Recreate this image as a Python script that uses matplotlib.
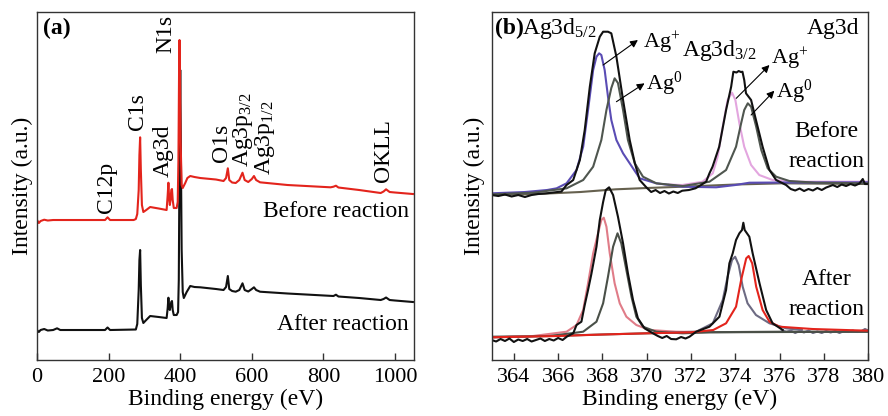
import matplotlib
matplotlib.use("Agg")
import matplotlib.pyplot as plt

plt.rcParams['font.family'] = ['Liberation Serif', 'DejaVu Serif']
plt.rcParams['mathtext.fontset'] = 'custom'
plt.rcParams['mathtext.rm'] = 'Liberation Serif'
plt.rcParams['mathtext.it'] = 'Liberation Serif:italic'
plt.rcParams['mathtext.bf'] = 'Liberation Serif:bold'

# ---------------- Panel (a): survey spectra ----------------
survey_E = [0, 5, 10, 20, 30, 45, 56, 65, 150, 190, 197, 204, 270, 276, 280, 284, 286, 288,
            290, 293, 297, 305, 316, 340, 362, 365, 367, 369, 371, 373, 375, 377, 379, 382,
            390, 393, 395, 397, 398, 399, 401, 404, 407, 414, 420, 428, 440, 456, 500, 521,
            528, 533, 537, 545, 555, 565, 574, 580, 590, 600, 606, 612, 623, 700, 820, 828,
            835, 842, 900, 960, 968, 975, 985, 1000, 1050]
before_I = [140, 137, 139, 140.3, 139.5, 140, 140, 140, 140, 140, 142.7, 140, 140, 141, 146, 170, 205, 222.7,
            190, 155, 148, 150, 153, 151.5, 150, 165, 177.3, 162, 155, 160, 170, 171, 160, 152,
            152, 158, 200, 300, 320, 300, 220, 175, 172, 177, 182, 184, 183, 182, 180.5, 179,
            182, 191.7, 180, 177.5, 177, 180, 187.3, 180, 178, 181, 184, 180, 177.7, 175, 172.7, 173.3,
            174.3, 172.5, 170, 167, 168.5, 170.7, 168, 167.5, 166]

after_E = [0, 5, 10, 20, 30, 45, 56, 65, 190, 197, 204, 276, 280, 284, 286, 288, 290, 293,
           297, 305, 316, 340, 362, 365, 367, 369, 371, 373, 375, 377, 379, 382, 390, 394,
           396, 398, 400, 402, 404, 407, 410, 418, 428, 440, 456, 500, 521, 528, 533, 537,
           545, 555, 565, 574, 580, 590, 600, 606, 612, 623, 700, 828, 835, 842, 900, 960,
           968, 975, 985, 1000, 1050]
after_I = [30, 28, 30, 31, 29.5, 30, 31.7, 30, 30, 32.5, 30, 30.5, 36, 70, 100, 110, 75, 42,
           37, 40, 44, 43, 42, 52, 62.3, 52, 50, 54, 58, 59, 50, 45, 45, 48,
           80, 200, 290, 200, 110, 68, 62, 68, 74, 73, 72.7, 71, 70, 73, 84, 71,
           69, 68.3, 70, 76.7, 70, 68.5, 71, 72.7, 70, 68.3, 66.5, 64, 65.3, 63.5, 62, 60,
           61, 62.5, 60, 59.5, 58]

survey_xticks = [0, 200, 400, 600, 800, 1000]

# rotated peak labels: (text, E, intensity of label bottom)
survey_labels = ['C12p', 'C1s', 'Ag3d', 'N1s', 'O1s',
                 r'Ag3p$_{\mathrm{3/2}}$', r'Ag3p$_{\mathrm{1/2}}$', 'OKLL']
survey_label_E = [193.5, 281, 354, 361, 516, 574, 636, 969]
survey_label_I = [147, 230, 183, 307, 198, 193, 185, 178]

# ---------------- Panel (b): Ag3d high-resolution ----------------
# Before reaction
b_raw_E = [363.0, 363.3, 363.6, 363.9, 364.2, 364.5, 364.8, 365.1, 365.4, 365.6, 366.15, 366.38,
           366.68, 366.98, 367.2, 367.43, 367.65, 367.88, 368.03, 368.25, 368.4, 368.63, 368.93,
           369.23, 369.46, 369.68, 369.98, 370.2, 370.4, 370.6, 370.8, 371.0, 371.2, 371.4, 371.6,
           371.9, 372.2, 372.45, 372.68, 372.83, 372.97, 373.27, 373.58, 373.81, 373.91, 374.05,
           374.15, 374.25, 374.32, 374.4, 374.48, 374.71, 374.93, 375.23, 375.54, 375.84, 376.29,
           376.5, 376.7, 376.9, 377.1, 377.3, 377.5, 377.7, 377.9, 378.1, 378.4, 378.6, 378.8,
           379.0, 379.2, 379.4, 379.6, 379.75, 379.85, 380.0]
b_raw_I = [165, 164, 165.5, 163.5, 165, 163, 165, 166, 166.5, 167, 168.5, 175,
           180, 200, 230, 273.3, 306.7, 323.3, 328.3, 328.3, 326.7, 303.3, 260,
           220, 197, 180, 172.7, 168, 170, 167, 169, 166.5, 168.5, 167, 169.3,
           170, 171.7, 175, 178.3, 186.7, 193.3, 213.3, 250, 273.3, 288.3, 287.5,
           289, 288, 288.3, 280, 266.7, 260, 240, 213.3, 190, 180, 175,
           171, 169.5, 171.5, 169, 171, 169.5, 172, 170, 172.5, 175, 173, 175.5,
           174, 176, 174.5, 176.5, 181, 176, 176]

b_agp52_E = [363.0, 364.5, 365.5, 365.93, 366.38, 366.83, 367.13, 367.35, 367.58, 367.73, 367.85,
             367.95, 368.1, 368.25, 368.4, 368.63, 368.93, 369.23, 369.68, 370.43, 371.63, 373.13,
             374.0, 374.63, 376.0, 380.0]
b_agp52_I = [166.7, 168, 170, 171.7, 176.7, 190, 213.3, 250, 290, 303.3, 306.7,
             305, 290, 263.3, 240, 220, 206.7, 196.7, 181.7, 176.7, 173.3, 172.7,
             175, 177.3, 177.5, 177.7]

b_ag0_E = [363.0, 364.87, 366.38, 367.13, 367.58, 367.95, 368.18, 368.4, 368.55, 368.7, 368.93,
           369.15, 369.46, 369.83, 370.43, 371.63, 372.83, 373.58, 374.03, 374.26, 374.4, 374.56,
           374.71, 374.94, 375.17, 375.46, 375.84, 376.44, 377.64, 380.0]
b_ag0_I = [165.7, 167.3, 171.7, 180, 193.3, 220, 250, 272, 281.7, 277, 250,
           220, 196.7, 183.3, 176.7, 174, 178.3, 190, 213.3, 236.7, 250, 256.7,
           253.3, 233.3, 210, 191.7, 183.3, 179, 177.3, 176.7]

b_agp32_E = [371.0, 371.6, 372.52, 372.98, 373.2, 373.43, 373.65, 373.85, 374.0, 374.18, 374.4,
             374.71, 375.08, 375.68, 376.89, 380.0]
b_agp32_I = [175.5, 175, 178.3, 186.7, 203.3, 233.3, 260, 267.3, 260, 236.7, 213.3,
             195, 185, 180, 178.3, 178.3]

b_bg_E = [363.0, 365.0, 367.0, 368.6, 370.0, 371.6, 374.0, 376.1, 380.0]
b_bg_I = [165, 166, 168, 170.7, 172, 173.3, 175.5, 176.7, 176]

# After reaction
a_raw_E = [363.0, 363.2, 363.4, 363.6, 363.8, 364.0, 364.2, 364.4, 364.6, 364.8, 365.0, 365.2,
           365.4, 365.6, 365.8, 366.0, 366.2, 366.4, 366.68, 366.83, 367.05, 367.2, 367.35, 367.5,
           367.73, 367.88, 368.03, 368.15, 368.3, 368.48, 368.7, 368.93, 369.15, 369.38, 369.6,
           369.9, 370.28, 370.5, 370.7, 370.9, 371.1, 371.33, 371.55, 371.75, 371.93, 372.23,
           372.83, 373.28, 373.58, 373.73, 373.88, 374.03, 374.18, 374.3, 374.36, 374.42, 374.63,
           374.78, 375.09, 375.39, 375.68, 376.14]
a_raw_I = [20, 18.5, 21, 19, 21.5, 18, 20.5, 19, 21, 18.5, 20, 21.5,
           19, 21, 19.5, 22, 20, 23.5, 26.7, 35, 38.3, 55, 70, 86,
           113.3, 140, 158, 170, 172.7, 165, 143.3, 116.7, 86.7, 60, 41.7,
           31.7, 26.7, 24, 22, 24, 21, 20.7, 23, 21.5, 23.3, 28.3,
           33.3, 43.3, 70, 96.7, 106.7, 120, 126.7, 130, 137.3, 130, 123.3,
           106.7, 76.7, 50, 36.7, 30]

a_tail_E = [376.1, 376.3, 376.5, 376.7, 376.9, 377.1, 377.3, 377.5, 377.7, 377.9, 378.1, 378.3,
            378.5, 378.7, 378.9, 379.1, 379.3, 379.5, 379.7, 379.85, 380.0]
a_tail_I = [30, 28, 29.5, 27, 29, 27.5, 29.5, 27, 28.5, 27, 29, 27.5,
            29, 27, 29, 28, 29.5, 28, 29, 31, 29.5]

a_agp52_E = [363.0, 364.87, 366.38, 366.83, 367.13, 367.35, 367.58, 367.8, 367.95, 368.06, 368.18,
             368.33, 368.55, 368.78, 369.08, 369.53, 370.13, 371.33, 372.5]
a_agp52_I = [22.7, 24, 28.3, 35, 50, 76.7, 106.7, 126.7, 140, 142.3, 133.3,
             106.7, 76.7, 56.7, 43.3, 35, 30, 28.3, 28]

a_ag0_E = [363.0, 365.63, 367.13, 367.73, 368.03, 368.25, 368.48, 368.68, 368.85, 369.08, 369.31,
           369.53, 369.83, 370.43, 371.63, 372.83, 380.0]
a_ag0_I = [22.7, 24, 28.3, 38.3, 56.7, 83.3, 113.3, 126.7, 116.7, 90, 63.3,
           43.3, 33.3, 28.3, 26.7, 27.7, 28.3]

a_agp32_E = [371.0, 372.23, 372.98, 373.43, 373.65, 373.85, 373.99, 374.15, 374.33, 374.55, 374.93,
             375.54, 376.29, 377.0]
a_agp32_I = [27.5, 28.3, 36.7, 60, 83.3, 100, 103.3, 95, 73.3, 56.7, 45,
             36.7, 31.7, 30]

a_ag032_E = [363.0, 366.0, 368.0, 370.0, 372.0, 373.0, 373.58, 374.03, 374.26, 374.49, 374.6,
             374.76, 374.94, 375.23, 375.54, 375.99, 377.49, 380.0]
a_ag032_I = [22.7, 24, 25.5, 26.7, 27.7, 30, 36.7, 53.3, 80, 101.7, 104,
             96.7, 73.3, 50, 38.3, 33.3, 31, 29.3]

a_bg_E = [363.0, 366.0, 368.0, 370.0, 372.0, 376.0, 380.0]
a_bg_I = [23.3, 24.3, 25.5, 26.7, 27.7, 28.3, 28.3]

hr_xticks = [364, 366, 368, 370, 372, 374, 376, 378, 380]

# ---------------- Figure ----------------
fig = plt.figure(figsize=(8.88, 4.16), dpi=100)
axa = fig.add_axes([0.0417, 0.1346, 0.4245, 0.8365])
axb = fig.add_axes([0.5537, 0.1346, 0.4241, 0.8365])

FS = 17
spine_c = '#333333'

for ax in (axa, axb):
    for s in ax.spines.values():
        s.set_color(spine_c)
        s.set_linewidth(1.0)
    ax.set_yticks([])
    ax.tick_params(axis='x', direction='in', length=5, width=1.0, color=spine_c,
                   labelsize=16, pad=6)
    ax.set_ylim(0, 348)
    ax.set_xlabel('Binding energy (eV)', fontsize=FS, labelpad=1)
axa.set_ylabel('Intensity (a.u.)', fontsize=FS, labelpad=3)
axb.set_ylabel('Intensity (a.u.)', fontsize=FS, labelpad=5)

# panel (a)
axa.plot(after_E, after_I, color='#111111', lw=1.5)
axa.plot(survey_E, before_I, color='#e3241c', lw=1.5)
axa.set_xlim(0, 1053)
axa.set_xticks(survey_xticks)
for t, e, i in zip(survey_labels, survey_label_E, survey_label_I):
    axa.text(e, i, t, rotation=90, ha='center', va='bottom', fontsize=FS)
axa.text(0.0167, 0.937, '(a)', transform=axa.transAxes, fontsize=FS, fontweight='bold',
         ha='left', va='baseline')
axa.text(0.9867, 0.411, 'Before reaction', transform=axa.transAxes, fontsize=FS,
         ha='right', va='baseline')
axa.text(0.9867, 0.086, 'After reaction', transform=axa.transAxes, fontsize=FS,
         ha='right', va='baseline')

# panel (b)
lw = 1.5
axb.plot(b_bg_E, b_bg_I, color='#66614f', lw=lw)
axb.plot(b_agp32_E, b_agp32_I, color='#e3a6df', lw=lw)
axb.plot(b_agp52_E, b_agp52_I, color='#5a4cb4', lw=lw)
axb.plot(b_ag0_E, b_ag0_I, color='#4f564f', lw=lw)
axb.plot(b_raw_E, b_raw_I, color='#111111', lw=lw)

axb.plot(a_bg_E, a_bg_I, color='#55574f', lw=lw)
axb.plot(a_tail_E, a_tail_I, color='#6d6b83', lw=lw)
axb.plot(a_agp52_E, a_agp52_I, color='#e07c88', lw=lw)
axb.plot(a_ag0_E, a_ag0_I, color='#4a5048', lw=lw)
axb.plot(a_agp32_E, a_agp32_I, color='#6d6b83', lw=lw)
axb.plot(a_ag032_E, a_ag032_I, color='#e3241c', lw=lw)
axb.plot(a_raw_E, a_raw_I, color='#111111', lw=lw)

axb.set_xlim(363.0, 380.0)
axb.set_xticks(hr_xticks)

ap = dict(arrowstyle='-|>', color='k', lw=0.8, mutation_scale=11, shrinkA=0, shrinkB=0)
axb.annotate('', xy=(369.6, 320), xytext=(368.03, 295), arrowprops=ap)
axb.annotate('', xy=(369.9, 276.7), xytext=(368.63, 258.3), arrowprops=ap)
axb.annotate('', xy=(375.54, 295), xytext=(374.04, 261.7), arrowprops=ap)
axb.annotate('', xy=(375.76, 269.3), xytext=(374.71, 245), arrowprops=ap)

FS2 = 16
axb.text(369.82, 312, r'Ag$^{+}$', fontsize=FS2, ha='left', va='baseline')
axb.text(369.98, 270, r'Ag$^{0}$', fontsize=FS2, ha='left', va='baseline')
axb.text(375.62, 296, r'Ag$^{+}$', fontsize=FS2, ha='left', va='baseline')
axb.text(375.85, 262, r'Ag$^{0}$', fontsize=FS2, ha='left', va='baseline')

axb.text(0.0088, 0.937, '(b)', transform=axb.transAxes, fontsize=FS, fontweight='bold',
         ha='left', va='baseline')
axb.text(0.0797, 0.937, r'Ag3d$_{\mathrm{5/2}}$', transform=axb.transAxes, fontsize=FS,
         ha='left', va='baseline')
axb.text(0.5045, 0.8736, r'Ag3d$_{\mathrm{3/2}}$', transform=axb.transAxes, fontsize=FS,
         ha='left', va='baseline')
axb.text(0.977, 0.937, 'Ag3d', transform=axb.transAxes, fontsize=FS, ha='right', va='baseline')
axb.text(0.889, 0.641, 'Before', transform=axb.transAxes, fontsize=FS, ha='center', va='baseline')
axb.text(0.889, 0.5546, 'reaction', transform=axb.transAxes, fontsize=FS, ha='center', va='baseline')
axb.text(0.889, 0.2155, 'After', transform=axb.transAxes, fontsize=FS, ha='center', va='baseline')
axb.text(0.889, 0.129, 'reaction', transform=axb.transAxes, fontsize=FS, ha='center', va='baseline')

fig.savefig('out.png', dpi=100)
